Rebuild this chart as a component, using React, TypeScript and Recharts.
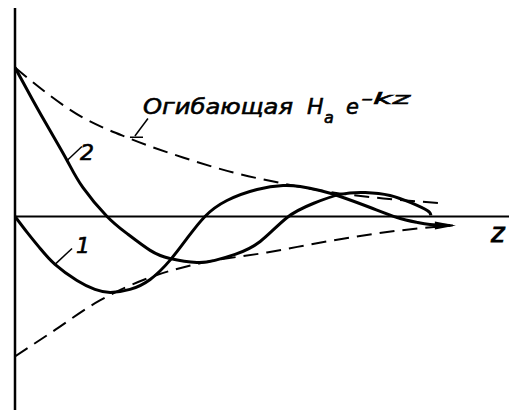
import React from "react";
import { LineChart, Line, XAxis, YAxis, ReferenceLine, ReferenceDot } from "recharts";

// Upper envelope  H_a e^{-kz}
const upperEnvelope = [
  { z: 0, v: 100 },
  { z: 1.51, v: 66.4 },
  { z: 2.56, v: 52.3 },
  { z: 3.74, v: 39.6 },
  { z: 4.86, v: 29.5 },
  { z: 5.97, v: 22.1 },
  { z: 7.08, v: 16.1 },
  { z: 8.2, v: 12.1 },
  { z: 9.58, v: 8.7 },
];

// Lower envelope  -H_a e^{-kz}
const lowerEnvelope = [
  { z: 0, v: -94 },
  { z: 0.78, v: -78.5 },
  { z: 1.89, v: -56.4 },
  { z: 3.01, v: -40.9 },
  { z: 4.12, v: -31.5 },
  { z: 5.61, v: -24.2 },
  { z: 7.08, v: -16.1 },
  { z: 8.57, v: -9.4 },
  { z: 9.75, v: -6.0 },
];

// Curve 1 (sine-like, starts at zero)
const curve1 = [
  { z: 0, v: 0 },
  { z: 0.27, v: -10.7 },
  { z: 0.56, v: -21.5 },
  { z: 0.89, v: -32.2 },
  { z: 1.38, v: -43.0 },
  { z: 1.78, v: -49.0 },
  { z: 2.12, v: -51.0 },
  { z: 2.56, v: -49.0 },
  { z: 3.01, v: -42.3 },
  { z: 3.45, v: -29.5 },
  { z: 3.83, v: -14.8 },
  { z: 4.23, v: 0 },
  { z: 4.72, v: 10.7 },
  { z: 5.39, v: 18.1 },
  { z: 5.97, v: 20.8 },
  { z: 6.35, v: 20.1 },
  { z: 6.79, v: 17.4 },
  { z: 7.24, v: 13.4 },
  { z: 7.91, v: 6.0 },
  { z: 8.51, v: -0.7 },
  { z: 8.95, v: -4.0 },
  { z: 9.24, v: -5.4 },
  { z: 9.69, v: -6.0 },
];

// Curve 2 (cosine-like, starts on the envelope)
const curve2 = [
  { z: 0, v: 100 },
  { z: 0.4, v: 77.9 },
  { z: 0.78, v: 57.7 },
  { z: 1.16, v: 37.6 },
  { z: 1.51, v: 19.5 },
  { z: 2.05, v: 0 },
  { z: 2.49, v: -11.4 },
  { z: 3.01, v: -22.8 },
  { z: 3.45, v: -28.2 },
  { z: 4.05, v: -30.9 },
  { z: 4.45, v: -29.5 },
  { z: 4.9, v: -25.5 },
  { z: 5.46, v: -16.8 },
  { z: 6.06, v: -0.7 },
  { z: 6.64, v: 8.7 },
  { z: 7.24, v: 14.8 },
  { z: 7.8, v: 16.1 },
  { z: 8.35, v: 14.1 },
  { z: 8.8, v: 9.4 },
  { z: 9.18, v: 4.0 },
  { z: 9.26, v: 0.7 },
];

const FONT = "'DejaVu Sans', sans-serif";

const labelStyle = {
  fontFamily: FONT,
  fontStyle: "italic",
  fontWeight: 400,
  fill: "#000",
  stroke: "#000",
  strokeWidth: 0.6,
};

const EnvelopeLabel = (p: any) => (
  <g>
    <text x={p.cx} y={p.cy} fontSize={22} textLength={150} lengthAdjust="spacingAndGlyphs" style={labelStyle}>
      Огибающая
    </text>
    <text x={p.cx + 164} y={p.cy} fontSize={22} style={labelStyle}>H</text>
    <text x={p.cx + 181} y={p.cy + 9} fontSize={16} style={labelStyle}>a</text>
    <text x={p.cx + 203} y={p.cy} fontSize={21} style={labelStyle}>e</text>
    <text x={p.cx + 218} y={p.cy - 10} fontSize={16} textLength={49} lengthAdjust="spacingAndGlyphs" style={labelStyle}>
      -kz
    </text>
  </g>
);

const NumLabel = (text: string) => (p: any) => (
  <text x={p.cx} y={p.cy} fontSize={22} style={labelStyle}>
    {text}
  </text>
);

const AxisName = (p: any) => (
  <text x={p.cx} y={p.cy} fontSize={26} style={{ ...labelStyle, strokeWidth: 0.9 }}>
    z
  </text>
);

const ArrowHead = (p: any) => (
  <path d={`M ${p.cx + 3} ${p.cy} L ${p.cx - 18} ${p.cy - 4} L ${p.cx - 18} ${p.cy + 4} Z`} fill="#000" />
);

export default function App() {
  return (
    <div style={{ position: "absolute", left: 0, top: 0, background: "#fff" }}>
      <LineChart width={509} height={412} margin={{ top: 8, right: 0, bottom: 2, left: 15 }}>
        <XAxis dataKey="z" type="number" domain={[0, 11]} hide allowDataOverflow />
        <YAxis type="number" domain={[-130, 140]} hide allowDataOverflow />
        <ReferenceLine y={0} stroke="#000" strokeWidth={2} />
        <ReferenceLine x={0} stroke="#000" strokeWidth={2.5} />
        <Line data={upperEnvelope} dataKey="v" type="monotone" stroke="#000" strokeWidth={2} strokeDasharray="15 8" dot={false} isAnimationActive={false} />
        <Line data={lowerEnvelope} dataKey="v" type="monotone" stroke="#000" strokeWidth={2} strokeDasharray="15 8" dot={false} isAnimationActive={false} />
        <Line data={curve1} dataKey="v" type="natural" stroke="#000" strokeWidth={3} dot={false} isAnimationActive={false} />
        <Line data={curve2} dataKey="v" type="natural" stroke="#000" strokeWidth={3} dot={false} isAnimationActive={false} />
        {/* leader ticks */}
        <ReferenceLine segment={[{ x: 1.16, y: 37.6 }, { x: 1.49, y: 47 }]} stroke="#000" strokeWidth={1.5} />
        <ReferenceLine segment={[{ x: 0.89, y: -32.2 }, { x: 1.27, y: -21.5 }]} stroke="#000" strokeWidth={1.5} />
        <ReferenceLine segment={[{ x: 2.67, y: 54 }, { x: 2.96, y: 65.8 }]} stroke="#000" strokeWidth={1.5} />
        <ReferenceLine segment={[{ x: 2.56, y: 53.2 }, { x: 2.85, y: 53.2 }]} stroke="#000" strokeWidth={1.5} />
        <ReferenceDot x={9.75} y={-6} r={0} shape={ArrowHead} />
        <ReferenceDot x={1.45} y={37.6} r={0} shape={NumLabel("2")} />
        <ReferenceDot x={1.36} y={-24.8} r={0} shape={NumLabel("1")} />
        <ReferenceDot x={2.85} y={69.1} r={0} shape={EnvelopeLabel} />
        <ReferenceDot x={10.6} y={-17.4} r={0} shape={AxisName} />
      </LineChart>
    </div>
  );
}
